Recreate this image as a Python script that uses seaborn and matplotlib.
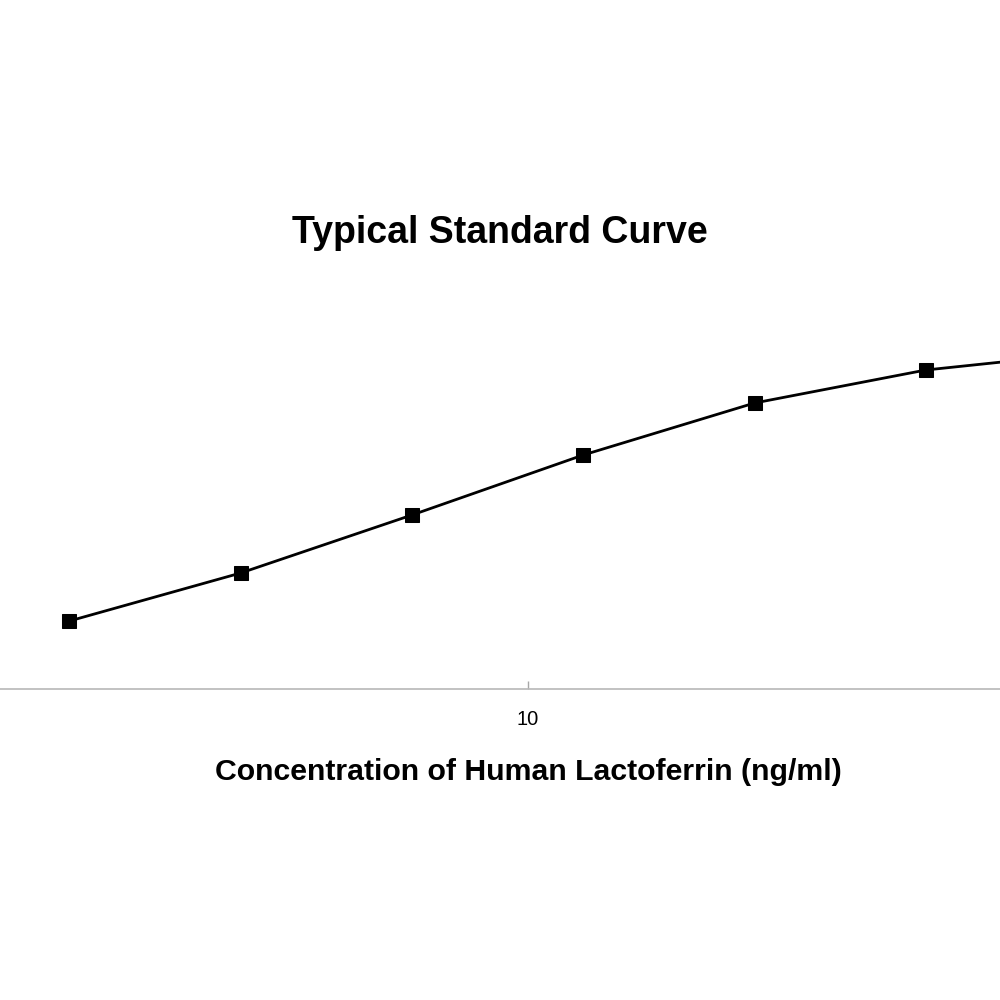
import matplotlib
matplotlib.use("Agg")
import matplotlib.pyplot as plt
import seaborn as sns
import numpy as np
import pandas as pd

concentration = [1.5625, 3.125, 6.25, 12.5, 25, 50, 100]
od_values = [0.68, 1.16, 1.74, 2.34, 2.86, 3.19, 3.37]
tick_values = [10]
tick_labels = ["10"]

sns.set_theme(style="white")
plt.rcParams['font.family'] = ['Liberation Sans', 'DejaVu Sans']
plt.rcParams['text.color'] = 'black'
plt.rcParams['axes.labelcolor'] = 'black'
plt.rcParams['xtick.color'] = 'black'

fig = plt.figure(figsize=(10, 10), dpi=100)
ax = fig.add_axes([0.0, 0.311, 1.0, 0.39])

df = pd.DataFrame({"conc": concentration, "od": od_values})
sns.lineplot(data=df, x="conc", y="od", ax=ax, color="black", linewidth=2,
             marker="s", markersize=10.5, markeredgecolor="black", markerfacecolor="black")

ax.set_xscale("log")
ax.set_xlim(1.18, 67.5)
ax.set_ylim(0, 3.9)
ax.set_xticks(tick_values)
ax.set_xticklabels(tick_labels, fontsize=14.5, color="black")
ax.xaxis.set_minor_locator(matplotlib.ticker.NullLocator())
ax.tick_params(axis="x", bottom=True, direction="in", length=6, width=1, color="#a8a8a8", pad=15)
ax.set_yticks([])
for s in ["top", "left", "right"]:
    ax.spines[s].set_visible(False)
ax.spines["bottom"].set_color("#b8b8b8")
ax.spines["bottom"].set_linewidth(1.2)

ax.set_ylabel("")
ax.set_xlabel("Concentration of Human Lactoferrin (ng/ml)", fontsize=21.8, fontweight="bold", color="black")
ax.xaxis.set_label_coords(0.528, -0.178)
fig.suptitle("Typical Standard Curve", x=0.5, y=0.767, va="center", fontsize=27, fontweight="bold", color="black")

fig.savefig("out.png", dpi=100, facecolor="white")
